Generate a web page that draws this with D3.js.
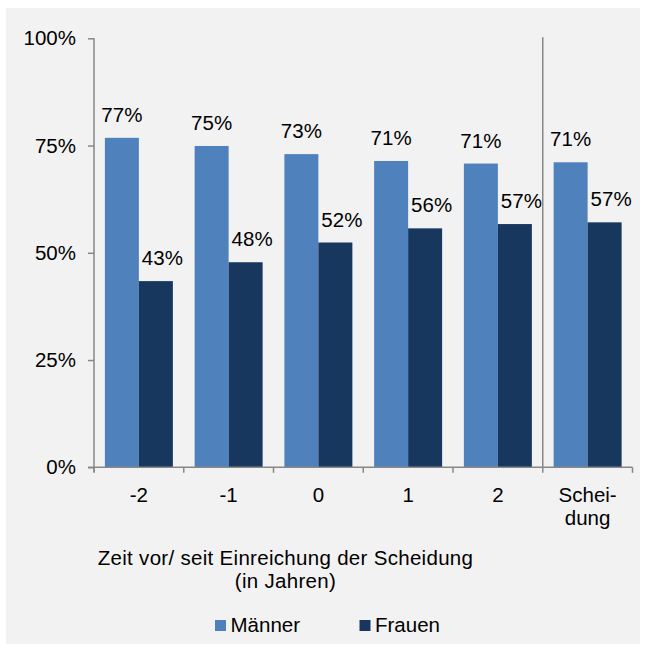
<!DOCTYPE html>
<html><head><meta charset="utf-8">
<script src="https://cdn.jsdelivr.net/npm/d3@7"></script>
<style>html,body{margin:0;padding:0;background:#fff;}svg{display:block;}</style>
</head><body>
<script>
const categories = ["-2", "-1", "0", "1", "2", "Schei-|dung"];
const series = ["Männer", "Frauen"];
const maenner = [76.8, 74.9, 73.0, 71.4, 70.8, 71.1];
const frauen = [43.4, 47.8, 52.4, 55.7, 56.7, 57.1];
const yTicks = [0, 25, 50, 75, 100];
const colors = ["#4F81BD", "#17375E"];
const xTitle = ["Zeit vor/ seit Einreichung der Scheidung", "(in Jahren)"];

const W = 646, H = 645;
const svg = d3.select("body").append("svg").attr("width", W).attr("height", H);
const font = "'Liberation Sans', Arial, sans-serif";
const fs = 20.5;

svg.append("rect").attr("x", 6).attr("y", 8).attr("width", 634).attr("height", 636).attr("fill", "#F2F2F2");

const x0 = 94, x1 = 632.5, yb = 467.3, yt = 38.3;
const x = d3.scaleBand().domain(categories).range([x0, x1]).padding(0);
const xs = d3.scaleBand().domain(series).range([0, x.bandwidth()]).paddingInner(0).paddingOuter(0.32);
const y = d3.scaleLinear().domain([0, 100]).range([yb, yt]);
const axisColor = "#878787";

// bars
const data = categories.map((c, i) => ({c, vals: [maenner[i], frauen[i]]}));
const g = svg.append("g");
data.forEach(d => {
  d.vals.forEach((v, j) => {
    g.append("rect")
      .attr("x", x(d.c) + xs(series[j]))
      .attr("y", y(v))
      .attr("width", xs.bandwidth())
      .attr("height", yb - y(v))
      .attr("fill", colors[j]);
    g.append("text")
      .attr("x", x(d.c) + xs(series[j]) + xs.bandwidth() / 2 + (j === 1 ? 6.5 : 0))
      .attr("y", y(v) - 16)
      .attr("text-anchor", "middle")
      .attr("font-family", font).attr("font-size", fs).attr("fill", "#000")
      .text(d3.format(".0f")(Math.round(v)) + "%");
  });
});

// y axis
const yAxis = d3.axisLeft(y).tickValues(yTicks).tickSize(6).tickPadding(12).tickFormat(d => d + "%");
const ya = svg.append("g").attr("transform", `translate(${x0},0)`).call(yAxis);
ya.select(".domain").attr("stroke", axisColor).attr("stroke-width", 1.5).attr("d", `M0,${yt}V${yb + 5}`);
ya.selectAll(".tick line").attr("stroke", axisColor).attr("stroke-width", 1.5);
ya.selectAll(".tick text").attr("font-family", font).attr("font-size", fs).attr("fill", "#000");

// x axis
svg.append("line").attr("x1", x0 - 6).attr("x2", x1).attr("y1", yb).attr("y2", yb)
  .attr("stroke", axisColor).attr("stroke-width", 1.5);
const bounds = categories.map(c => x(c)).concat([x1]);
bounds.forEach((b, i) => {
  svg.append("line").attr("x1", b).attr("x2", b)
    .attr("y1", i === categories.length - 1 ? yt - 1 : yb).attr("y2", yb + 5.5)
    .attr("stroke", axisColor).attr("stroke-width", 1.5);
});
categories.forEach(c => {
  const lines = c.split("|");
  const t = svg.append("text").attr("text-anchor", "middle")
    .attr("font-family", font).attr("font-size", fs).attr("fill", "#000");
  lines.forEach((l, k) => {
    t.append("tspan").attr("x", x(c) + x.bandwidth() / 2).attr("y", 501.5 + k * 23.5).text(l);
  });
});

// axis title
xTitle.forEach((l, k) => {
  svg.append("text").attr("x", 285.5).attr("y", 565 + k * 22.7).attr("text-anchor", "middle")
    .attr("font-family", font).attr("font-size", fs).attr("letter-spacing", "0.3px")
    .attr("fill", "#000").text(l);
});

// legend
const legX = [215, 359.5];
series.forEach((s, j) => {
  svg.append("rect").attr("x", legX[j]).attr("y", 620).attr("width", 11).attr("height", 11).attr("fill", colors[j]);
  svg.append("text").attr("x", legX[j] + 15.5).attr("y", 632.3)
    .attr("font-family", font).attr("font-size", fs).attr("fill", "#000").text(s);
});
</script>
</body></html>
